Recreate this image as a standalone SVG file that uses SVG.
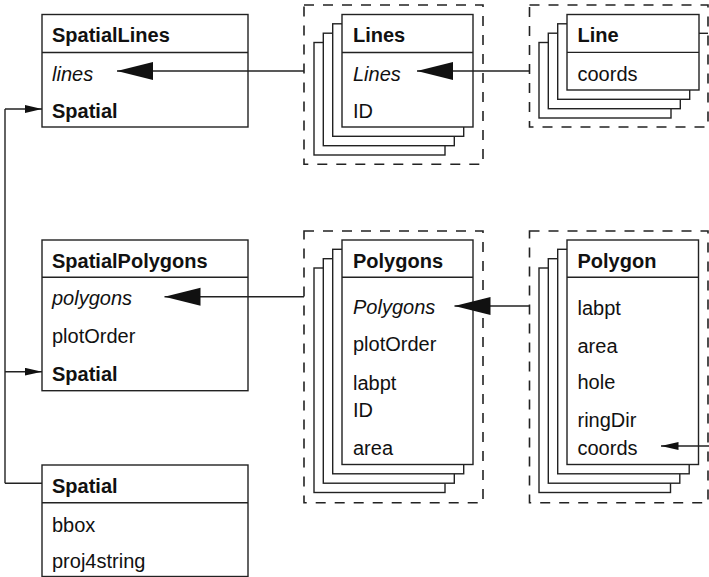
<svg xmlns="http://www.w3.org/2000/svg" width="709" height="577" viewBox="0 0 709 577">
<defs>
<style>
.box{fill:#fff;stroke:#222;stroke-width:1.4}
.div{stroke:#222;stroke-width:1.4}
.dash{fill:none;stroke:#222;stroke-width:1.6;stroke-dasharray:10 9}
.con{fill:none;stroke:#222;stroke-width:1.4}
text{font-family:"Liberation Sans",Arial,sans-serif;font-size:20px;fill:#111}
.h{font-weight:bold}
.i{font-style:italic}
</style>
<marker id="big" markerUnits="userSpaceOnUse" markerWidth="37" markerHeight="19" refX="36" refY="9" orient="auto">
<path d="M0,0 L36,9 L0,18 Z" fill="#111"/>
</marker>
<marker id="small" markerUnits="userSpaceOnUse" markerWidth="18" markerHeight="9" refX="17.5" refY="4" orient="auto">
<path d="M0,0 L17.5,4 L0,8 Z" fill="#111"/>
</marker>
</defs>

<g id="SpatialLines">
<rect class="box" x="42" y="14.5" width="206" height="112.5"/>
<line class="div" x1="42" y1="52.5" x2="248" y2="52.5"/>
<text class="h" x="52" y="42.3">SpatialLines</text>
<text class="i" x="52" y="81">lines</text>
<text class="h" x="52" y="118.3">Spatial</text>
</g>

<g id="Lines">
<rect class="dash" x="304" y="5" width="179" height="159.3"/>
<rect class="box" x="314" y="42.5" width="131" height="112.5"/>
<rect class="box" x="323.3" y="33.2" width="131" height="112.5"/>
<rect class="box" x="332.7" y="23.8" width="131" height="112.5"/>
<rect class="box" x="342" y="14.5" width="131" height="112.5"/>
<line class="div" x1="342" y1="52.5" x2="473" y2="52.5"/>
<text class="h" x="353" y="42.3">Lines</text>
<text class="i" x="353" y="81">Lines</text>
<text x="353" y="118.3">ID</text>
</g>

<g id="Line">
<rect class="dash" x="529.5" y="5" width="178.5" height="122"/>
<rect class="box" x="539" y="42.5" width="132" height="75.5"/>
<rect class="box" x="548.3" y="33.2" width="132" height="75.5"/>
<rect class="box" x="557.7" y="23.8" width="132" height="75.5"/>
<rect class="box" x="567" y="14.5" width="132" height="75.5"/>
<line class="div" x1="567" y1="52.4" x2="699" y2="52.4"/>
<text class="h" x="577.5" y="42.3">Line</text>
<text x="577.5" y="81">coords</text>
</g>

<g id="SpatialPolygons">
<rect class="box" x="42" y="240" width="206" height="150.7"/>
<line class="div" x1="42" y1="277.3" x2="248" y2="277.3"/>
<text class="h" x="52" y="267.7">SpatialPolygons</text>
<text class="i" x="52" y="305">polygons</text>
<text x="52" y="342.5">plotOrder</text>
<text class="h" x="52" y="380.5">Spatial</text>
</g>

<g id="Polygons">
<rect class="dash" x="304" y="231" width="179" height="271.7"/>
<rect class="box" x="314" y="268" width="131" height="224.5"/>
<rect class="box" x="323.3" y="258.7" width="131" height="224.5"/>
<rect class="box" x="332.7" y="249.3" width="131" height="224.5"/>
<rect class="box" x="342" y="240" width="131" height="224.5"/>
<line class="div" x1="342" y1="277.3" x2="473" y2="277.3"/>
<text class="h" x="353" y="267.7">Polygons</text>
<text class="i" x="353" y="314.3">Polygons</text>
<text x="353" y="351">plotOrder</text>
<text x="353" y="390">labpt</text>
<text x="353" y="417.3">ID</text>
<text x="353" y="455">area</text>
</g>

<g id="Polygon">
<rect class="dash" x="529.5" y="231" width="178.5" height="271.7"/>
<rect class="box" x="539" y="268" width="131.5" height="224.5"/>
<rect class="box" x="548.3" y="258.7" width="131.5" height="224.5"/>
<rect class="box" x="557.7" y="249.3" width="131.5" height="224.5"/>
<rect class="box" x="567" y="240" width="131.5" height="224.5"/>
<line class="div" x1="567" y1="277.3" x2="698.5" y2="277.3"/>
<text class="h" x="577.5" y="267.7">Polygon</text>
<text x="577.5" y="315">labpt</text>
<text x="577.5" y="352.7">area</text>
<text x="577.5" y="389.3">hole</text>
<text x="577.5" y="426.7">ringDir</text>
<text x="577.5" y="455">coords</text>
</g>

<g id="Spatial">
<rect class="box" x="42" y="465" width="206" height="111.5"/>
<line class="div" x1="42" y1="502.7" x2="248" y2="502.7"/>
<text class="h" x="52" y="493.3">Spatial</text>
<text x="52" y="531.7">bbox</text>
<text x="52" y="568.3">proj4string</text>
</g>

<g id="connectors">
<path class="con" d="M304,71 H117" marker-end="url(#big)"/>
<path class="con" d="M529.5,71 H417" marker-end="url(#big)"/>
<path class="con" d="M699,33.3 H708"/>
<path class="con" d="M304,296.7 H164.5" marker-end="url(#big)"/>
<path class="con" d="M529.5,306 H454.5" marker-end="url(#big)"/>
<path class="con" d="M709,446 H661" marker-end="url(#small)"/>
<path class="con" d="M5,483.3 V109"/>
<path class="con" d="M5,109 H42" marker-end="url(#small)"/>
<path class="con" d="M5,371.7 H42" marker-end="url(#small)"/>
<path class="con" d="M5,483.3 H42"/>
</g>
</svg>
